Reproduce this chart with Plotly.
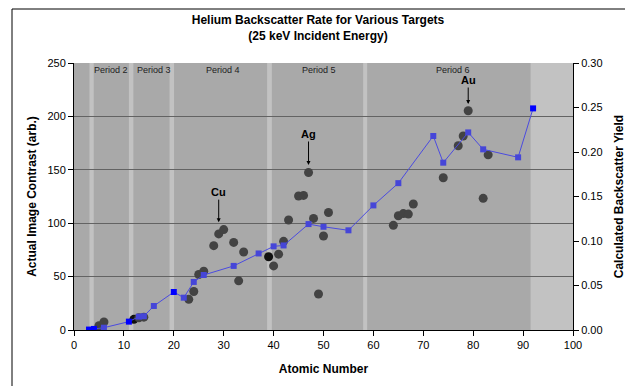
import plotly.graph_objects as go

# ---- data ----
measured_z = [5, 6, 12, 13, 14, 23, 24, 25, 26, 28, 29, 30, 32, 33, 34, 39, 40, 41, 42, 43,
              45, 46, 47, 48, 49, 50, 51, 64, 65, 66, 67, 68, 74, 77, 78, 79, 82, 83]
measured_contrast = [4, 7.5, 10, 11.5, 12, 28.7, 36, 52, 55, 79, 90, 94, 82, 46, 73, 68.6, 60, 71, 83, 103,
                     125.5, 126, 147.5, 104.5, 33.7, 88, 110, 98, 107, 109, 108.5, 118, 142.6, 172.5, 181.6, 205.3, 123.3, 164]
measured_black = [12, 39]

calc_z = [3, 4, 6, 11, 13, 14, 16, 20, 22, 24, 26, 32, 37, 40, 42, 47, 50, 55, 60, 65, 72, 74, 79, 82, 89, 92]
calc_yield = [0.0005, 0.0012, 0.0026, 0.0094, 0.015, 0.0155, 0.027, 0.0427, 0.0363, 0.054, 0.0618, 0.072,
              0.086, 0.094, 0.095, 0.119, 0.116, 0.112, 0.14, 0.165, 0.218, 0.188, 0.222, 0.203, 0.194, 0.249]
calc_bright = [3, 4, 11, 20, 92]

period_labels = ["Period 2", "Period 3", "Period 4", "Period 5", "Period 6"]
period_centers = [7.5, 16.1, 29.8, 49.0, 75.9]
band_ranges = [(3.1, 3.95), (11.0, 11.9), (19.15, 20.05), (38.7, 39.65), (57.95, 58.75), (91.5, 100)]

callout_labels = ["Cu", "Ag", "Au"]
callout_z = [29, 47, 79]
callout_y = [101, 154.5, 211.6]
callout_ay = [-30, -31, -24]

FONT = "Liberation Sans, Arial, sans-serif"

fig = go.Figure()

circle_colors = ["#111111" if z in measured_black else "#434343" for z in measured_z]
fig.add_trace(go.Scatter(
    x=measured_z, y=measured_contrast, mode="markers",
    marker=dict(symbol="circle", size=9, color=circle_colors, line=dict(width=0)),
    showlegend=False, yaxis="y"))

square_colors = ["#0000FF" if z in calc_bright else "#4646D8" for z in calc_z]
fig.add_trace(go.Scatter(
    x=calc_z, y=calc_yield, mode="lines+markers",
    line=dict(color="#4B4BE0", width=1),
    marker=dict(symbol="square", size=6, color=square_colors, line=dict(width=0)),
    showlegend=False, yaxis="y2"))

shapes = []
for a, b in band_ranges:
    shapes.append(dict(type="rect", xref="x", yref="paper", x0=a, x1=b, y0=0, y1=1,
                       fillcolor="#C2C2C2", line=dict(width=0), layer="below"))
# outer chart border (left, top); page pixels -> paper coords
px = lambda p: (p - 74) / 499
py = lambda p: (330 - p) / 267
shapes.append(dict(type="line", xref="paper", yref="paper", x0=px(12), x1=px(12), y0=py(9), y1=py(400),
                   line=dict(color="#000000", width=1)))
shapes.append(dict(type="line", xref="paper", yref="paper", x0=px(12), x1=px(640), y0=py(9), y1=py(9),
                   line=dict(color="#000000", width=1)))

annotations = []
for lab, cx in zip(period_labels, period_centers):
    annotations.append(dict(x=cx, y=py(70), xref="x", yref="paper", text=lab, showarrow=False,
                            font=dict(family=FONT, size=9, color="#222222"), yanchor="middle"))
for lab, cz, cy, ay in zip(callout_labels, callout_z, callout_y, callout_ay):
    annotations.append(dict(x=cz, y=cy, xref="x", yref="y", text="<b>" + lab + "</b>",
                            showarrow=True, arrowhead=2, arrowsize=0.8, arrowwidth=1, arrowcolor="#000000",
                            ax=0, ay=ay, font=dict(family=FONT, size=11, color="#000000")))

# the page has an 8px body margin, so the figure is 8px smaller than the window
W, H = 625, 378
fig.update_layout(
    template="none",
    width=W, height=H,
    margin=dict(l=66, r=60, t=55, b=56, autoexpand=False),
    paper_bgcolor="#FFFFFF", plot_bgcolor="#A9A9A9",
    font=dict(family=FONT, size=11, color="#000000"),
    title=dict(text="<b>Helium Backscatter Rate for Various Targets<br>(25 keV Incident Energy)</b>",
               x=(318 - 8) / W, xref="container", y=1 - 16 / H, yanchor="middle", yref="container",
               font=dict(family=FONT, size=12, color="#000000")),
    xaxis=dict(range=[0, 100], dtick=10, showgrid=False, zeroline=False, automargin=False,
               showline=True, linecolor="#000000", linewidth=1,
               ticks="outside", ticklen=5, tickcolor="#000000",
               title=dict(text="<b>Atomic Number</b>", font=dict(family=FONT, size=12), standoff=14)),
    yaxis=dict(range=[0, 250], dtick=50, showgrid=True, gridcolor="#636363", gridwidth=1, zeroline=False,
               automargin=False, showline=True, linecolor="#000000", linewidth=1,
               ticks="outside", ticklen=5, tickcolor="#000000",
               title=dict(text="<b>Actual Image Contrast (arb.)</b>", font=dict(family=FONT, size=12), standoff=8)),
    yaxis2=dict(range=[0, 0.30], dtick=0.05, tickformat=".2f", overlaying="y", side="right",
                showgrid=False, zeroline=False, automargin=False, showline=True, linecolor="#000000", linewidth=1,
                ticks="outside", ticklen=5, tickcolor="#000000",
                title=dict(text="<b>Calculated Backscatter Yield</b>", font=dict(family=FONT, size=12), standoff=12)),
    shapes=shapes, annotations=annotations,
)

fig.write_html("out.html")
